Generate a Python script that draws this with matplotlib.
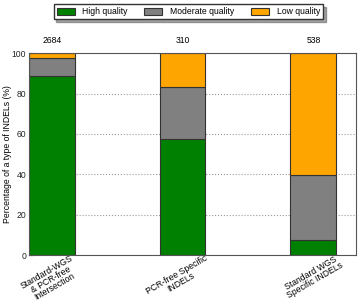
import numpy as np
import matplotlib.pyplot as plt

plt.rcParams['font.family'] = ['Liberation Sans', 'DejaVu Sans']

categories = ['Standard-WGS\n& PCR-free\nIntersection', 'PCR-free Specific\nINDELs', 'Standard WGS\nSpecific INDELs']
totals = [2684, 310, 538]
high = [88.5, 57.3, 7.5]
moderate = [9.2, 25.9, 32.0]
low = [2.3, 16.8, 60.5]

fs = 6.2
fig = plt.figure(figsize=(3.58, 3.05), dpi=100)
ax = fig.add_axes([0.081, 0.163, 0.913, 0.663])

x = np.arange(len(categories))
w = 0.35
high = np.array(high)
moderate = np.array(moderate)
low = np.array(low)
ec = '#333333'
ax.bar(x, high, w, align='edge', color='#008000', edgecolor=ec, linewidth=0.8, label='High quality')
ax.bar(x, moderate, w, bottom=high, align='edge', color='#808080', edgecolor=ec, linewidth=0.8, label='Moderate quality')
ax.bar(x, low, w, bottom=high + moderate, align='edge', color='#FFA500', edgecolor=ec, linewidth=0.8, label='Low quality')

for xi, t in zip(x, totals):
    ax.text(xi + w / 2, 104, str(t), ha='center', va='bottom', fontsize=fs)

ax.set_xlim(0, 2.5)
ax.set_ylim(0, 100)
ax.set_yticks([0, 20, 40, 60, 80, 100])
ax.tick_params(axis='y', labelsize=fs, direction='in', length=3, colors='#222222', pad=2)
ax.set_xticks(x + w + 0.06)
ax.set_xticklabels(categories, rotation=30, ha='right', fontsize=fs, multialignment='center', linespacing=0.88)
ax.tick_params(axis='x', length=0, pad=-1)
ax.yaxis.grid(True, linestyle=':', color='#999999', linewidth=0.8)
ax.set_axisbelow(True)
for s in ax.spines.values():
    s.set_color('#555555')
ax.set_ylabel('Percentage of a type of INDELs (%)', fontsize=fs, labelpad=0)

fig.legend(*ax.get_legend_handles_labels(), loc='upper center', bbox_to_anchor=(0.526, 1.0), ncol=3,
           fontsize=fs, frameon=True, shadow=True, fancybox=False, edgecolor='#333333',
           handlelength=2.1, handleheight=0.9, handletextpad=0.9, columnspacing=1.9, borderpad=0.35)

fig.savefig('out.png', dpi=100)
